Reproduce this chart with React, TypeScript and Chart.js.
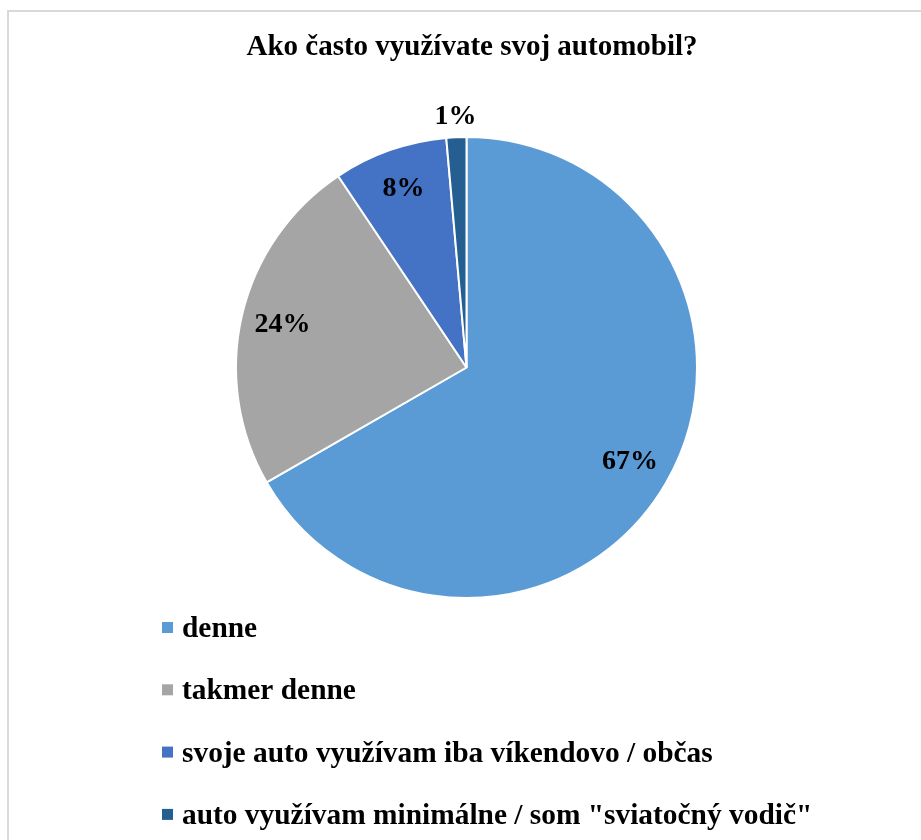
import React, { useEffect, useRef } from "react";
import { Chart, registerables } from "chart.js";

Chart.register(...registerables);

const chartTitle = "Ako často využívate svoj automobil?";
const categories = [
  "denne",
  "takmer denne",
  "svoje auto využívam iba víkendovo / občas",
  'auto využívam minimálne / som "sviatočný vodič"',
];
const shares = [66.7, 23.9, 8.0, 1.4];
const sliceColors = ["#5B9BD5", "#A5A5A5", "#4472C4", "#255E91"];

const FONT = '"Liberation Serif", "Times New Roman", serif';

const overlayPlugin = {
  id: "overlay",
  afterDraw(chart: any) {
    const ctx = chart.ctx;
    ctx.save();
    // title
    ctx.fillStyle = "#000";
    ctx.font = `bold 29px ${FONT}`;
    ctx.textAlign = "center";
    ctx.textBaseline = "alphabetic";
    ctx.fillText(chartTitle, 472, 55);

    // data labels
    const meta = chart.getDatasetMeta(0);
    const data = chart.data.datasets[0].data as number[];
    const total = data.reduce((a: number, b: number) => a + b, 0);
    ctx.font = `bold 28px ${FONT}`;
    ctx.textBaseline = "middle";
    meta.data.forEach((arc: any, i: number) => {
      const p = arc.getProps(["x", "y", "startAngle", "endAngle", "outerRadius"], true);
      const mid = (p.startAngle + p.endAngle) / 2;
      const frac = data[i] / total;
      const r = frac < 0.03 ? p.outerRadius + 20 : p.outerRadius * 0.82;
      const x = p.x + Math.cos(mid) * r;
      const y = p.y + Math.sin(mid) * r;
      ctx.fillText(Math.round(frac * 100) + "%", x, y);
    });

    // legend
    const labels = chart.data.labels as string[];
    const colors = chart.data.datasets[0].backgroundColor as string[];
    ctx.font = `bold 29.4px ${FONT}`;
    ctx.textAlign = "left";
    ctx.textBaseline = "alphabetic";
    labels.forEach((lab: string, i: number) => {
      const base = 637 + i * 62.3;
      ctx.fillStyle = colors[i];
      ctx.fillRect(162, base - 15, 11, 11);
      ctx.fillStyle = "#000";
      ctx.fillText(lab, 182, base);
    });
    ctx.restore();
  },
};

export default function App() {
  const ref = useRef<HTMLCanvasElement | null>(null);
  useEffect(() => {
    if (!ref.current) return;
    const chart = new Chart(ref.current, {
      type: "pie",
      data: {
        labels: categories,
        datasets: [
          {
            data: shares,
            backgroundColor: sliceColors,
            borderColor: "#ffffff",
            borderWidth: 2,
          },
        ],
      },
      options: {
        responsive: false,
        animation: false,
        layout: { padding: { left: 235, right: 223, top: 136, bottom: 241 } },
        plugins: {
          legend: { display: false },
          title: { display: false },
          tooltip: { enabled: false },
        },
      },
      plugins: [overlayPlugin],
    });
    return () => chart.destroy();
  }, []);
  return (
    <div style={{ position: "fixed", left: 0, top: 0, width: 921, height: 840, overflow: "hidden", background: "#fff" }}>
      <div
        style={{
          position: "absolute",
          left: 7,
          top: 10,
          width: 1000,
          height: 1000,
          border: "2px solid #d9d9d9",
          boxSizing: "border-box",
        }}
      />
      <canvas
        ref={ref}
        width={921}
        height={840}
        style={{ position: "absolute", left: 0, top: 0, width: 921, height: 840 }}
      />
    </div>
  );
}
